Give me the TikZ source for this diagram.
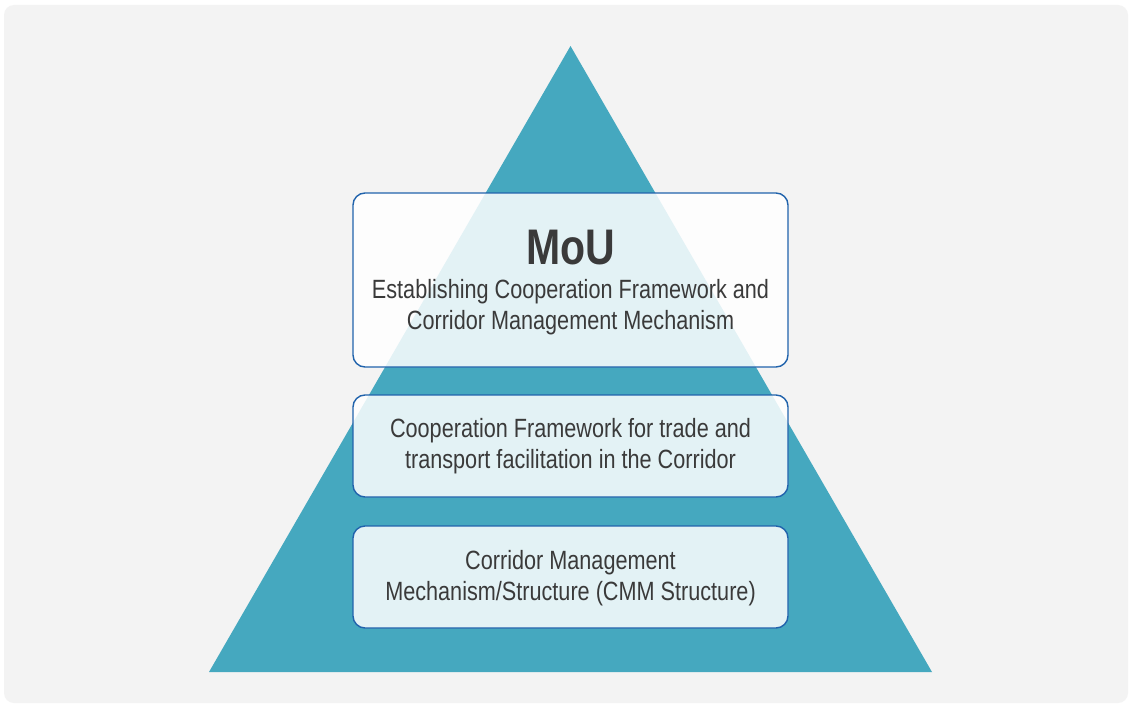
\documentclass[tikz,border=0pt]{standalone}
\usepackage{fontspec}
\setmainfont[FakeStretch=0.82]{Liberation Sans}
\usetikzlibrary{positioning}
\definecolor{pageback}{HTML}{F3F3F3}
\definecolor{pyramid}{HTML}{45A8BF}
\definecolor{boxline}{HTML}{2163AC}
\definecolor{inktext}{HTML}{3A3A3A}
\tikzset{%
    panel/.style={draw=boxline,line width=1.4pt,fill=white,fill opacity=0.85,
        rounded corners=12pt,minimum width=435pt,inner sep=0pt},
    bodytext/.style={text=inktext,align=center,font=\fontsize{26.4}{31}\selectfont}
}
\begin{document}
\begin{tikzpicture}[
        x=1pt,y=-1pt,
        title/.style={text=inktext,font=\fontsize{50}{50}\selectfont\bfseries,inner sep=0pt}
        ]
        \useasboundingbox (0,0) rectangle (1130,706);
        \fill[white] (0,0) rectangle (1130,706);
        \fill[pageback,rounded corners=10pt] (4,5) rectangle (1128,703);

        % pyramid
        \coordinate (apex) at (570.5,46);
        \coordinate (baseL) at (209,672);
        \coordinate (baseR) at (932,672);
        \fill[pyramid] (apex) -- (baseR) -- (baseL) -- cycle;

        % boxes
        \node[panel, minimum height=174pt] (mou) at (570.5,280) {};
        \node[panel, minimum height=102pt] (coop) at (570.5,446) {};
        \node[panel, minimum height=102pt] (cmm) at (570.5,577) {};

        % texts
        \node[title] (moutitle) at (570.5,248) {MoU};
        \node[bodytext, below=10pt of moutitle] (moutext) {Establishing Cooperation Framework and\\Corridor Management Mechanism};
        \node[bodytext] (cooptext) at (coop.center) {Cooperation Framework for trade and\\transport facilitation in the Corridor};
        \node[bodytext] (cmmtext) at ([yshift=-1pt]cmm.center) {Corridor Management\\Mechanism/Structure (CMM Structure)};
\end{tikzpicture}
\end{document}
